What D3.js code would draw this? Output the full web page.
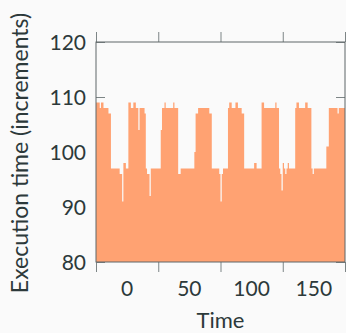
<!DOCTYPE html>
<html>
<head>
<meta charset="utf-8">
<script src="https://cdn.jsdelivr.net/npm/d3@7"></script>
<style>
  body { margin: 0; background: #fafafa; }
  svg { display: block; font-family: Lato, "Open Sans", sans-serif; }
</style>
</head>
<body>
<svg id="chart"></svg>
<script>
const WIDTH = 346;
const HEIGHT = 333;
const MARGIN = { left: 96, top: 42, right: 1, bottom: 71 };

// time steps -25 .. 174, one value per step
const startTime = -25;
const execTimes = [
  109, 109, 109, 108, 109, 109, 108, 108, 108, 108, 107, 107, // -25..-14
  97, 97, 97, 97, 97, 97, 97, 96, 96, 91, 98, 98, 97, 97,     // -13..0
  109, 109, 108, 108, 109, 109, 108, 108, 104, 108, 108, 108, 108, 107, // 1..14
  97, 96, 96, 92, 97, 97, 97, 97, 97, 97, 97, 97, 104,        // 15..27
  108, 108, 109, 108, 108, 108, 108, 108, 108, 109, 108, 108, 108, // 28..40
  96, 96, 97, 97, 97, 97, 97, 97, 97, 97, 97, 97, 97, 100,    // 41..54
  107, 107, 108, 108, 108, 108, 108, 108, 108, 108, 108, 107, 107, // 55..67
  97, 97, 97, 97, 97, 97, 96, 91, 96, 97, 97, 97, 97,         // 68..80
  108, 109, 109, 108, 108, 108, 109, 109, 108, 108, 108, 107, 107, // 81..93
  97, 97, 97, 97, 97, 97, 97, 97, 98, 98, 97, 97, 97, 97,     // 94..107
  109, 109, 108, 108, 108, 108, 108, 108, 108, 108, 108, 109, 108, 108, // 108..121
  97, 96, 93, 98, 97, 96, 97, 98, 97, 97, 97, 97, 97,         // 122..134
  108, 109, 109, 108, 108, 108, 108, 108, 109, 109, 108, 108, 108, // 135..147
  97, 96, 97, 97, 97, 97, 97, 97, 97, 97, 97, 97, 101, 101,   // 148..161
  108, 108, 108, 108, 108, 108, 108, 107, 108, 108, 108, 108, 108 // 162..174
];

const xTickMarks = [-25, 25, 75, 125, 175];
const xTickLabels = [0, 50, 100, 150];
const yTicks = [80, 90, 100, 110, 120];

const svg = d3.select("#chart")
  .attr("width", WIDTH)
  .attr("height", HEIGHT);

const x = d3.scaleLinear()
  .domain([-25, 175])
  .range([MARGIN.left, WIDTH - MARGIN.right]);

const y = d3.scaleLinear()
  .domain([80, 120])
  .range([HEIGHT - MARGIN.bottom, MARGIN.top]);

const points = execTimes.map((v, i) => ({ t: startTime + i, v: v }));
// close the last step at the right edge
points.push({ t: startTime + execTimes.length, v: execTimes[execTimes.length - 1] });

const tickColor = "#7d8586";
const frameColor = "#5f6768";
const textColor = "#2c393a";

// y ticks (inward, both sides) - fill covers the lower ones
svg.append("g")
  .attr("transform", `translate(${x(-25)},0)`)
  .call(d3.axisRight(y).tickValues(yTicks).tickSize(9).tickFormat(""))
  .call(g => g.select(".domain").remove())
  .call(g => g.selectAll("line").attr("stroke", tickColor));

svg.append("g")
  .attr("transform", `translate(${x(175)},0)`)
  .call(d3.axisLeft(y).tickValues(yTicks).tickSize(9).tickFormat(""))
  .call(g => g.select(".domain").remove())
  .call(g => g.selectAll("line").attr("stroke", tickColor));

const area = d3.area()
  .x(d => x(d.t))
  .y0(y(80))
  .y1(d => y(d.v))
  .curve(d3.curveStepAfter);

svg.append("path")
  .datum(points)
  .attr("fill", "#ffa272")
  .attr("d", area);

// x ticks (outward, top and bottom)
svg.append("g")
  .attr("transform", `translate(0,${y(80)})`)
  .call(d3.axisBottom(x).tickValues(xTickMarks).tickSize(10).tickFormat(""))
  .call(g => g.select(".domain").remove())
  .call(g => g.selectAll("line").attr("stroke", tickColor));

svg.append("g")
  .attr("transform", `translate(0,${y(120)})`)
  .call(d3.axisTop(x).tickValues(xTickMarks).tickSize(10).tickFormat(""))
  .call(g => g.select(".domain").remove())
  .call(g => g.selectAll("line").attr("stroke", tickColor));

// frame
svg.append("rect")
  .attr("x", x(-25))
  .attr("y", y(120))
  .attr("width", x(175) - x(-25))
  .attr("height", y(80) - y(120))
  .attr("fill", "none")
  .attr("stroke", frameColor)
  .attr("stroke-width", 1);

// tick labels
svg.append("g")
  .selectAll("text")
  .data(yTicks)
  .enter()
  .append("text")
  .attr("x", x(-25) - 10)
  .attr("y", d => y(d))
  .attr("dy", "0.36em")
  .attr("text-anchor", "end")
  .attr("font-size", 21)
  .attr("fill", textColor)
  .text(d => d);

svg.append("g")
  .selectAll("text")
  .data(xTickLabels)
  .enter()
  .append("text")
  .attr("x", d => x(d))
  .attr("y", 296)
  .attr("text-anchor", "middle")
  .attr("font-size", 21)
  .attr("fill", textColor)
  .text(d => d);

svg.append("text")
  .attr("x", (x(-25) + x(175)) / 2)
  .attr("y", 328)
  .attr("text-anchor", "middle")
  .attr("font-size", 22)
  .attr("fill", textColor)
  .text("Time");

svg.append("text")
  .attr("transform", `translate(28,${153}) rotate(-90)`)
  .attr("text-anchor", "middle")
  .attr("font-size", 23)
  .attr("fill", textColor)
  .text("Execution time (increments)");
</script>
</body>
</html>
